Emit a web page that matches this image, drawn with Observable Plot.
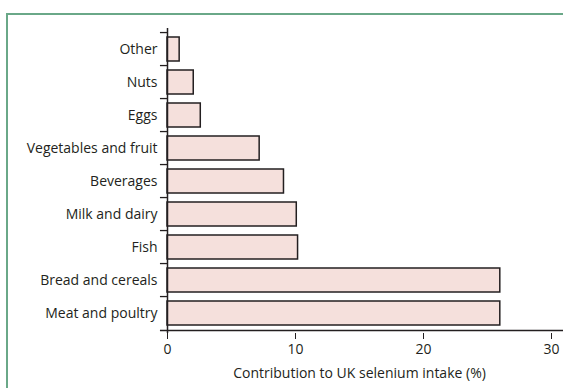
<!DOCTYPE html>
<html>
<head>
<meta charset="utf-8">
<script src="https://cdn.jsdelivr.net/npm/d3@7"></script>
<script src="https://cdn.jsdelivr.net/npm/@observablehq/plot@0.6"></script>
<style>
  html, body { margin: 0; padding: 0; background: #fff; }
  #wrap { position: relative; width: 563px; height: 388px; overflow: hidden; }
  #frame { position: absolute; left: 6px; top: 13px; width: 600px; height: 400px;
           border-top: 2px solid #6aa888; border-left: 2px solid #6aa888; box-sizing: border-box; }
  #chart { position: absolute; left: 0; top: 0; }
</style>
</head>
<body>
<div id="wrap"><div id="frame"></div><div id="chart"></div></div>
<script>
const categories = ["Meat and poultry", "Bread and cereals", "Fish", "Milk and dairy", "Beverages",
  "Vegetables and fruit", "Eggs", "Nuts", "Other"];
const values = [26.0, 26.0, 10.2, 10.1, 9.1, 7.2, 2.6, 2.05, 0.95];
const xTicks = [0, 10, 20, 30];
const xLabel = "Contribution to UK selenium intake (%)";

const data = categories.map((c, i) => ({category: c, value: values[i]}));
const domain = categories.slice().reverse();

const H = 388, MT = 28, MB = 55;
const step = (H - MT - MB) / domain.length;
const ink = "#231f20";

const chart = Plot.plot({
  width: 563,
  height: H,
  marginTop: MT,
  marginBottom: MB,
  marginLeft: 167,
  marginRight: 12,
  style: {fontFamily: "'Open Sans', sans-serif", fontSize: "14px", color: ink, background: "transparent"},
  x: {domain: [0, 30]},
  y: {domain, paddingInner: 0.28, paddingOuter: 0.14},
  marks: [
    Plot.barX(data, {y: "category", x1: 0, x2: "value", fill: "#f5e0dc", stroke: ink, strokeWidth: 1.5}),
    Plot.ruleX([0], {stroke: ink, strokeWidth: 1.5}),
    Plot.ruleY(domain, {y: d => d, x1: -0.55, x2: 0, dy: -step / 2, stroke: ink, strokeWidth: 1.3}),
    Plot.ruleY([domain[domain.length - 1]], {y: d => d, x1: -0.55, x2: 31, dy: step / 2, stroke: ink, strokeWidth: 1.5}),
    Plot.axisX({ticks: xTicks, tickSize: 6, tickPadding: 5, stroke: ink, fill: ink, fontSize: 14,
      label: xLabel, labelAnchor: "center", labelArrow: "none", labelOffset: 44}),
    Plot.axisY({tickSize: 0, tickPadding: 10, label: null, fill: ink, fontSize: 14})
  ]
});
document.getElementById("chart").appendChild(chart);
</script>
</body>
</html>
